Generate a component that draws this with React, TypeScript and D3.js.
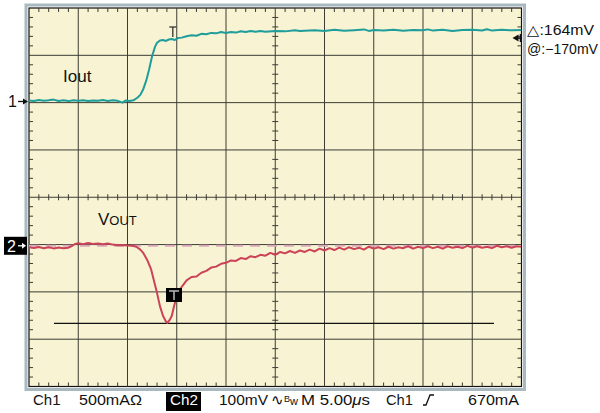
import React from "react";
import * as d3 from "d3";

// ---- Data (time in µs, Ch1 in A, Ch2 in mV) ----
const ch1Time = [0,0.5,1,1.5,2,2.5,3,3.5,4,4.5,5,5.5,6,6.5,7,7.5,8,8.5,9,9.5,9.8,10.2,10.6,11,11.3,11.6,11.9,12.2,12.5,12.8,13,13.3,13.6,13.9,14.2,14.5,14.8,15.1,15.5,16,16.5,17,17.5,18,18.5,19,19.5,20,20.5,21,21.5,22,22.5,23,23.5,24,25,26,27,27.5,28,29,30,31,32,33,34,34.5,35,36,37,38,39,40,40.5,41,42,43,44,45,46,46.5,47,48,49,50];
const ch1Amps = [0.01,0.005,0.015,0.008,0.012,0.02,0.006,0.012,0.004,0.014,0.009,0.013,0.006,0.011,0.008,0.015,0.005,0.012,0.007,-0.012,0.01,0.006,0.012,0.04,0.07,0.13,0.22,0.34,0.48,0.58,0.62,0.645,0.65,0.64,0.655,0.66,0.65,0.67,0.675,0.69,0.7,0.695,0.715,0.71,0.725,0.72,0.735,0.724,0.735,0.728,0.742,0.734,0.745,0.736,0.744,0.738,0.746,0.741,0.752,0.744,0.748,0.753,0.745,0.757,0.748,0.754,0.762,0.746,0.755,0.75,0.758,0.747,0.756,0.752,0.762,0.749,0.757,0.746,0.755,0.758,0.75,0.764,0.749,0.757,0.752,0.755];

const ch2Time = [0,0.5,1,1.5,2,2.5,3,3.5,4,4.3,4.7,5,5.5,6,6.5,7,7.5,8,8.5,9,9.5,10,10.5,10.9,11.3,11.6,12,12.4,12.7,13,13.3,13.6,13.9,14.05,14.3,14.5,14.7,14.9,15.1,15.3,15.6,16,16.5,17,17.5,18,18.5,19,19.5,20,20.5,21,21.5,22,22.5,23,23.5,24,24.5,25,25.5,26,26.5,27,27.5,28,28.5,29,29.5,30,30.5,31,31.5,32,32.5,33,33.5,34,34.5,35,35.5,36,36.5,37,37.5,38,38.5,39,39.5,40,40.5,41,41.5,42,42.5,43,43.5,44,44.5,45,45.5,46,46.5,47,47.5,48,48.5,49,49.5,50];
const ch2MilliVolts = [-3,-4.5,-2.5,-5,-3,-5.5,-3.5,-5,-4,-1,4,5.5,3.5,6,4,5,3.5,5,2.5,1,1.5,0.5,0,-2,-8,-15,-30,-50,-75,-100,-128,-148,-160,-163,-156,-148,-130,-114,-102,-93,-84,-73,-66,-65,-57,-53,-46,-44,-38,-36,-31,-32,-26,-28,-22,-24,-19,-21,-15,-19,-13,-16,-11,-15,-10,-13,-8,-12,-6,-10,-5,-9,-4,-8,-3,-7,-4,-8,-2,-6,-3,-7,-2,-6,-3,-5,-1,-6,-2,-5,-1,-5,-2,-6,-1,-4,-2,-5,0,-4,-1,-4,-2,-5,0,-3,-1,-4,-1,-2];

const cursorMilliVolts = [0, -164];
const triggerTime = 14.6;
const triggerLevelAmps = 0.67;

const bottomLabels = ["Ch1", "500mAΩ", "Ch2", "100mV", "M 5.00", "Ch1", "670mA"];
const readouts = ["△:164mV", "@:−170mV"];

// ---- Layout ----
const W = 600, H = 413;
const L = 29, R = 521.5, T = 8, B = 386.5;
const ch1Offset = 2.024; // divisions
const ch2Offset = -1.026;
const ch1PerDiv = 0.5;
const ch2PerDiv = 100;

const x = d3.scaleLinear().domain([0, 50]).range([L, R]);
const yDiv = d3.scaleLinear().domain([-4, 4]).range([B, T]);
const y1 = (a: number) => yDiv(a / ch1PerDiv + ch1Offset);
const y2 = (mv: number) => yDiv(mv / ch2PerDiv + ch2Offset);

const TEAL = "#1e9d9a";
const RED = "#cc4358";
const BG = "#f7f3d3";
const GRID = "#3c3c34";
const FONT = "'Liberation Sans', Arial, Helvetica, sans-serif";

export default function App() {
  const line1 = d3.line<number>().x((_, i) => x(ch1Time[i])).y((d) => y1(d))(ch1Amps) || "";
  const line2 = d3.line<number>().x((_, i) => x(ch2Time[i])).y((d) => y2(d))(ch2MilliVolts) || "";

  const majorX = d3.range(1, 10).map((i) => x(i * 5));
  const majorY = d3.range(-3, 4).map((i) => yDiv(i));
  const minorX = d3.range(0, 51).map((i) => x(i)).filter((_, i) => i % 5 !== 0);
  const minorY = d3.range(-20, 21).map((i) => yDiv(i * 0.2)).filter((_, i) => i % 5 !== 0);
  const cx = x(25), cy = yDiv(0);

  const tx = x(triggerTime);
  const trigY = y1(triggerLevelAmps);
  const m1 = y1(0);
  const m2 = y2(0);

  return (
    <svg width={W} height={H} style={{ position: "absolute", left: 0, top: 0, background: "#fff" }} fontFamily={FONT}>
      <defs>
        <clipPath id="plot">
          <rect x={L} y={T} width={R - L} height={B - T} />
        </clipPath>
      </defs>
      {/* frame */}
      <rect x={L - 3} y={T - 3} width={R - L + 6} height={B - T + 6} fill="none" stroke="#a8babf" strokeWidth={3} />
      <rect x={L} y={T} width={R - L} height={B - T} fill={BG} stroke="#111" strokeWidth={1.2} />
      {/* grid */}
      {majorX.map((v, i) => (
        <line key={"vx" + i} x1={v} x2={v} y1={T} y2={B} stroke={GRID} strokeWidth={1} />
      ))}
      {majorY.map((v, i) => (
        <line key={"hy" + i} x1={L} x2={R} y1={v} y2={v} stroke={GRID} strokeWidth={1} />
      ))}
      {/* minor ticks */}
      {minorX.map((v, i) => (
        <g key={"mx" + i} stroke={GRID} strokeWidth={1}>
          <line x1={v} x2={v} y1={T} y2={T + 4} />
          <line x1={v} x2={v} y1={B - 4} y2={B} />
          <line x1={v} x2={v} y1={cy - 3} y2={cy + 3} />
        </g>
      ))}
      {minorY.map((v, i) => (
        <g key={"my" + i} stroke={GRID} strokeWidth={1}>
          <line x1={L} x2={L + 4} y1={v} y2={v} />
          <line x1={R - 4} x2={R} y1={v} y2={v} />
          <line x1={cx - 3} x2={cx + 3} y1={v} y2={v} />
        </g>
      ))}
      {/* cursors */}
      <line x1={L} x2={R} y1={y2(cursorMilliVolts[0])} y2={y2(cursorMilliVolts[0])} stroke="#d9a9b9" strokeWidth={2} strokeDasharray="10,7" />
      <line x1={54} x2={494} y1={y2(cursorMilliVolts[1])} y2={y2(cursorMilliVolts[1])} stroke="#111" strokeWidth={1.3} />
      {/* traces */}
      <g clipPath="url(#plot)">
        <path d={line1} fill="none" stroke={TEAL} strokeWidth={2} strokeLinejoin="round" />
        <path d={line2} fill="none" stroke={RED} strokeWidth={2} strokeLinejoin="round" />
      </g>
      {/* trigger T marker at top */}
      <g stroke="#333" strokeWidth={1.3}>
        <line x1={tx - 3.5} x2={tx + 3.5} y1={27} y2={27} />
        <line x1={tx} x2={tx} y1={27} y2={37} />
      </g>
      {/* trigger box on ch2 */}
      <rect x={166} y={288} width={16} height={14} fill="#000" />
      <g stroke="#bbb" strokeWidth={1.5}>
        <line x1={169} x2={179} y1={291} y2={291} />
        <line x1={174} x2={174} y1={291} y2={300} />
      </g>
      {/* trigger level arrow at right edge */}
      <path d={`M${R - 9},${trigY} L${R - 3},${trigY - 3.5} L${R - 3},${trigY + 3.5} Z`} fill="#111" />
      <line x1={R - 4} x2={R} y1={trigY} y2={trigY} stroke="#111" strokeWidth={1.5} />
      <line x1={R - 1} x2={R - 1} y1={trigY - 4} y2={trigY + 4} stroke="#111" strokeWidth={1.5} />
      {/* channel markers */}
      <text x={8} y={m1 + 6} fontSize={16} fill="#111">1</text>
      <line x1={18} x2={25} y1={m1} y2={m1} stroke="#111" strokeWidth={1.3} />
      <path d={`M${28},${m1} L${23},${m1 - 3} L${23},${m1 + 3} Z`} fill="#111" />
      <rect x={4} y={m2 - 9} width={23} height={18} fill="#000" />
      <text x={7} y={m2 + 6} fontSize={16} fill="#fff">2</text>
      <line x1={18} x2={23} y1={m2} y2={m2} stroke="#fff" strokeWidth={1.3} />
      <path d={`M${26},${m2} L${22},${m2 - 3} L${22},${m2 + 3} Z`} fill="#fff" />
      {/* trace labels */}
      <text x={63} y={82} fontSize={17} fill="#111">Iout</text>
      <text x={98} y={225} fontSize={17} fill="#111">V<tspan fontSize={13}>OUT</tspan></text>
      {/* readouts */}
      <text x={527} y={35} fontSize={14} fill="#111" textLength={67} lengthAdjust="spacingAndGlyphs">{readouts[0]}</text>
      <text x={527} y={54} fontSize={14} fill="#111" textLength={71} lengthAdjust="spacingAndGlyphs">{readouts[1]}</text>
      {/* bottom labels */}
      <g fontSize={15} fill="#111">
        <text x={33} y={405}>{bottomLabels[0]}</text>
        <text x={79} y={405} textLength={63} lengthAdjust="spacingAndGlyphs">{bottomLabels[1]}</text>
        <rect x={166} y={392} width={35} height={19} fill="#000" />
        <text x={170} y={405} fill="#fff" textLength={28} lengthAdjust="spacingAndGlyphs">{bottomLabels[2]}</text>
        <text x={219} y={405} textLength={49} lengthAdjust="spacingAndGlyphs">{bottomLabels[3]}</text>
        <text x={271} y={405}>∿<tspan fontSize={9} dy={-3}>B</tspan><tspan fontSize={11} dy={3}>w</tspan></text>
        <text x={301} y={405} textLength={69} lengthAdjust="spacingAndGlyphs">{bottomLabels[4]}<tspan fontStyle="italic">μ</tspan>s</text>
        <text x={386} y={405} textLength={27} lengthAdjust="spacingAndGlyphs">{bottomLabels[5]}</text>
        <path d="M423,405 L426,405 L430,395 L434,395" fill="none" stroke="#111" strokeWidth={1.3} />
        <text x={468} y={405} textLength={51} lengthAdjust="spacingAndGlyphs">{bottomLabels[6]}</text>
      </g>
    </svg>
  );
}
